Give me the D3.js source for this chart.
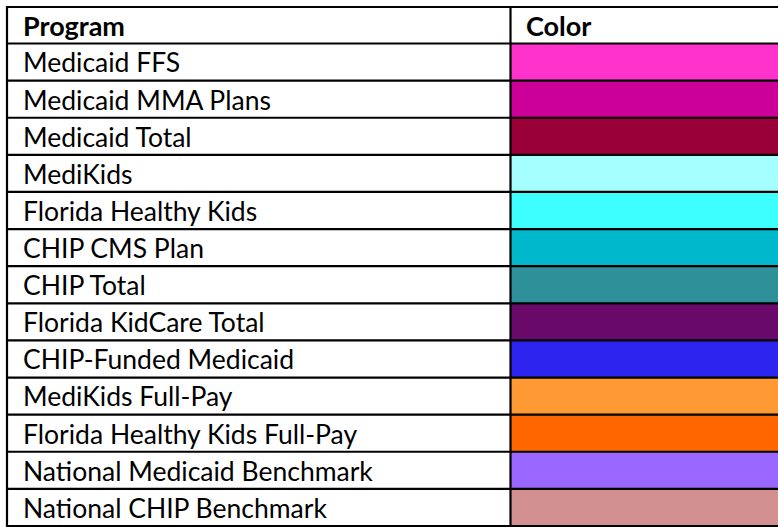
<!DOCTYPE html>
<html>
<head>
<meta charset="utf-8">
<script src="https://cdn.jsdelivr.net/npm/d3@7"></script>
<style>
  html, body { margin: 0; padding: 0; background: #fff; }
  svg { display: block; }
  text { font-family: Lato, "Open Sans", sans-serif; fill: #000; }
</style>
</head>
<body>
<svg id="chart" width="778" height="527"></svg>
<script>
const headers = ["Program", "Color"];
const programs = [
  "Medicaid FFS",
  "Medicaid MMA Plans",
  "Medicaid Total",
  "MediKids",
  "Florida Healthy Kids",
  "CHIP CMS Plan",
  "CHIP Total",
  "Florida KidCare Total",
  "CHIP-Funded Medicaid",
  "MediKids Full-Pay",
  "Florida Healthy Kids Full-Pay",
  "National Medicaid Benchmark",
  "National CHIP Benchmark"
];
const colors = [
  "#FF33CC", "#CC0099", "#990038", "#A6FFFF", "#3DFFFF", "#00B8CC", "#2E9098",
  "#690A6A", "#2E24F0", "#FF9933", "#FF6600", "#9966FF", "#D29090"
];

(function () {
const svg = d3.select("#chart");
const tLeft = 7, tRight = 780, tTop = 7, headerBottom = 43.5, tBottom = 526, divider = 510.5;

const x = d3.scaleOrdinal().domain(headers).range([tLeft, divider]);
const y = d3.scaleBand().domain(programs).range([headerBottom, tBottom]);

const rows = programs.map((p, i) => ({ program: p, color: colors[i] }));

// color cells
svg.append("g").selectAll("rect")
  .data(rows).join("rect")
  .attr("x", divider)
  .attr("y", d => y(d.program))
  .attr("width", tRight - divider)
  .attr("height", y.bandwidth())
  .attr("fill", d => d.color);

// fit font size so label widths resemble the reference typeface
function measure(str, size, weight) {
  const t = svg.append("text").attr("font-size", size).attr("font-weight", weight).text(str);
  const w = t.node().getComputedTextLength();
  t.remove();
  return w;
}
const sample = ["Medicaid FFS", "Medicaid MMA Plans", "Medicaid Total", "MediKids",
  "Florida Healthy Kids", "CHIP CMS Plan", "CHIP Total", "Florida KidCare Total",
  "CHIP-Funded Medicaid", "MediKids Full-Pay"];
const sampleW = [156, 251, 175, 109, 234, 173, 121, 246, 270, 209];
const measured = d3.sum(sample, s => measure(s, 20, "normal"));
const fs = 20 * d3.sum(sampleW) / measured;
const fsb = 20 * 102 / measure("Program", 20, "bold");

// header
svg.append("g").selectAll("text")
  .data(headers).join("text")
  .attr("x", d => x(d) + (d === "Program" ? 16 : 15.5))
  .attr("y", 36)
  .attr("font-size", fsb)
  .attr("font-weight", "bold")
  .text(d => d);

// program labels
svg.append("g").selectAll("text")
  .data(rows).join("text")
  .attr("x", tLeft + 16)
  .attr("y", d => y(d.program) + y.bandwidth() * 0.78)
  .attr("font-size", fs)
  .text(d => d.program);

// grid lines
const hLines = [tTop, headerBottom].concat(programs.map(p => y(p) + y.bandwidth()));
svg.append("g").selectAll("line")
  .data(hLines).join("line")
  .attr("x1", tLeft - 1).attr("x2", tRight)
  .attr("y1", d => d).attr("y2", d => d)
  .attr("stroke", "#000").attr("stroke-width", 2.2);

svg.append("g").selectAll("line")
  .data([tLeft, divider]).join("line")
  .attr("x1", d => d).attr("x2", d => d)
  .attr("y1", tTop - 1).attr("y2", tBottom + 1)
  .attr("stroke", "#000").attr("stroke-width", 2.2);
})();
</script>
</body>
</html>
